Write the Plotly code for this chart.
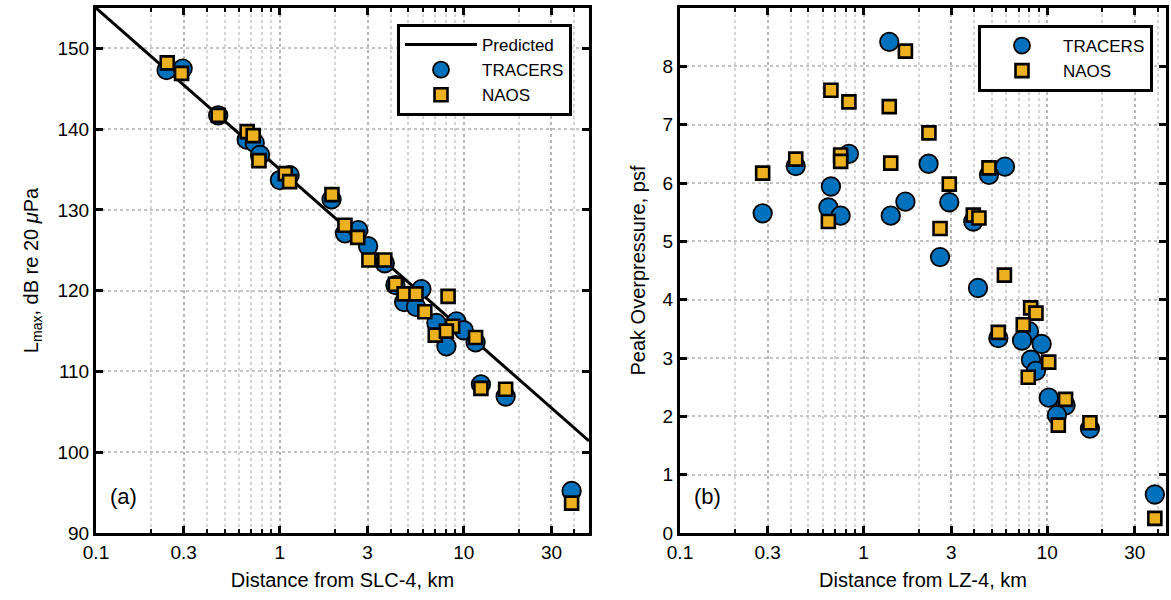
import numpy as np
import plotly.graph_objects as go

# ---------------- data ----------------
# Panel (a): Lmax vs distance from SLC-4
pred_x = [0.1, 48]
pred_y = [155.0, 101.4]

a_tr_x = [0.242, 0.296, 0.462, 0.66, 0.73, 0.78, 1.0, 1.13, 1.91, 2.26, 2.67, 3.02, 3.72,
          4.25, 4.74, 5.89, 5.5, 7.1, 9.12, 8.05, 10.0, 11.6, 12.4, 16.9, 38.6]
a_tr_y = [147.3, 147.5, 141.7, 138.7, 138.3, 136.8, 133.7, 134.3, 131.3, 127.1, 127.5, 125.5, 123.4,
          120.7, 118.6, 120.2, 118.0, 116.0, 116.2, 113.1, 115.1, 113.6, 108.4, 106.9, 95.2]
a_na_x = [0.244, 0.292, 0.462, 0.664, 0.716, 0.77, 1.07, 1.13, 1.92, 2.26, 2.65, 3.05, 3.72,
          4.25, 4.74, 5.5, 6.14, 7.0, 8.22, 8.7, 8.05, 11.6, 12.4, 16.9, 38.6]
a_na_y = [148.2, 146.9, 141.7, 139.7, 139.2, 136.1, 134.5, 133.5, 131.9, 128.1, 126.6, 123.8, 123.8,
          120.8, 119.6, 119.6, 117.4, 114.5, 119.3, 115.6, 115.0, 114.2, 107.9, 107.8, 93.7]

# Panel (b): peak overpressure vs distance from LZ-4
b_tr_x = [1.38, 0.832, 0.427, 2.26, 0.664, 0.282, 0.643, 0.75, 1.406, 1.69, 2.93, 2.61, 3.96,
          4.2, 5.89, 4.82, 5.42, 7.96, 7.3, 9.33, 8.16, 8.69, 10.2, 12.6, 11.3, 17.1, 38.6]
b_tr_y = [8.42, 6.50, 6.29, 6.33, 5.94, 5.48, 5.58, 5.44, 5.44, 5.68, 5.67, 4.73, 5.34,
          4.20, 6.28, 6.14, 3.34, 3.46, 3.30, 3.24, 2.97, 2.78, 2.32, 2.19, 2.02, 1.79, 0.66]
b_na_x = [1.69, 0.664, 0.832, 1.38, 2.27, 0.75, 0.75, 0.427, 0.282, 1.406, 2.93, 0.643, 2.61,
          3.96, 4.25, 4.82, 5.85, 8.13, 8.69, 7.41, 5.42, 10.2, 7.89, 12.6, 11.5, 17.1, 38.6]
b_na_y = [8.26, 7.59, 7.39, 7.31, 6.86, 6.48, 6.37, 6.41, 6.17, 6.34, 5.98, 5.34, 5.22,
          5.45, 5.40, 6.26, 4.42, 3.86, 3.77, 3.57, 3.44, 2.93, 2.67, 2.29, 1.85, 1.89, 0.25]

x_tickvals = [0.1, 0.3, 1, 3, 10, 30]
x_ticktext = ["0.1", "0.3", "1", "3", "10", "30"]
x_minor = [0.2, 0.4, 0.5, 0.6, 0.7, 0.8, 0.9, 2, 4, 5, 6, 7, 8, 9, 20, 40]

BLUE = "#0072BD"
GOLD = "#EDB120"
FONT = "Liberation Sans, Arial, sans-serif"

W, H = 1171, 600
ML, MR, MT, MB = 0, 0, 8, 67
PH = H - MT - MB

fig = go.Figure()

fig.add_trace(go.Scatter(x=pred_x, y=pred_y, mode="lines", name="Predicted",
                         line=dict(color="black", width=3), xaxis="x", yaxis="y",
                         legend="legend"))
fig.add_trace(go.Scatter(x=a_tr_x, y=a_tr_y, mode="markers", name="TRACERS",
                         marker=dict(symbol="circle", size=18.5, color=BLUE,
                                     line=dict(color="black", width=1.8)),
                         xaxis="x", yaxis="y", legend="legend"))
fig.add_trace(go.Scatter(x=a_na_x, y=a_na_y, mode="markers", name="NAOS",
                         marker=dict(symbol="square", size=13, color=GOLD,
                                     line=dict(color="black", width=2.6)),
                         xaxis="x", yaxis="y", legend="legend"))

fig.add_trace(go.Scatter(x=b_tr_x, y=b_tr_y, mode="markers", name="TRACERS",
                         marker=dict(symbol="circle", size=18.5, color=BLUE,
                                     line=dict(color="black", width=1.8)),
                         xaxis="x2", yaxis="y2", legend="legend2"))
fig.add_trace(go.Scatter(x=b_na_x, y=b_na_y, mode="markers", name="NAOS",
                         marker=dict(symbol="square", size=13, color=GOLD,
                                     line=dict(color="black", width=2.6)),
                         xaxis="x2", yaxis="y2", legend="legend2"))


def xaxis_cfg(domain, xmax, title):
    return dict(
        domain=domain, type="log", range=[-1, np.log10(xmax)],
        tickvals=x_tickvals, ticktext=x_ticktext,
        ticks="inside", ticklen=7, tickwidth=2.5, tickcolor="black",
        showline=True, linewidth=3, linecolor="black", mirror="ticks",
        showgrid=True, gridcolor="#b8b8b8", gridwidth=1.5, griddash="dot",
        zeroline=False,
        tickfont=dict(family=FONT, size=19, color="black"),
        title=dict(text=title, font=dict(family=FONT, size=20, color="black"), standoff=12),
        minor=dict(tickvals=x_minor, ticks="inside", ticklen=4, tickwidth=2,
                   tickcolor="black", showgrid=True, gridcolor="#d4d4d4",
                   gridwidth=1.5, griddash="dot"),
    )


def yaxis_cfg(rng, dtick, title, anchor, standoff):
    return dict(
        domain=[0, 1], range=rng, dtick=dtick, tick0=rng[0], anchor=anchor,
        ticks="inside", ticklen=7, tickwidth=2.5, tickcolor="black",
        showline=True, linewidth=3, linecolor="black", mirror="ticks",
        showgrid=True, gridcolor="#c4c4c4", gridwidth=1.5, griddash="dot",
        zeroline=False,
        tickfont=dict(family=FONT, size=19, color="black"),
        title=dict(text=title, font=dict(family=FONT, size=20, color="black"), standoff=standoff),
    )


legend_common = dict(
    bgcolor="white", bordercolor="black", borderwidth=3,
    font=dict(family=FONT, size=17, color="black"),
    xanchor="left", yanchor="top", itemwidth=72, tracegroupgap=0,
)

fig.update_layout(
    width=W, height=H,
    margin=dict(l=ML, r=MR, t=MT, b=MB, autoexpand=False),
    paper_bgcolor="white", plot_bgcolor="white",
    xaxis=xaxis_cfg([96 / W, 589 / W], 48, "Distance from SLC-4, km"),
    yaxis=yaxis_cfg([90, 155], 10, "L<sub>max</sub>, dB re 20 <i>μ</i>Pa", "x", 14),
    xaxis2=xaxis_cfg([680 / W, 1166 / W], 44.4, "Distance from LZ-4, km"),
    yaxis2=yaxis_cfg([0, 9], 1, "Peak Overpressure, psf", "x2", 12),
    legend=dict(x=397 / W, y=1 - (24 - MT) / PH, **legend_common),
    legend2=dict(x=978 / W, y=1 - (25 - MT) / PH, **legend_common),
    annotations=[
        dict(text="(a)", xref="x domain", yref="y domain", x=0.024, y=0.07,
             xanchor="left", yanchor="middle", showarrow=False,
             font=dict(family=FONT, size=22, color="black")),
        dict(text="(b)", xref="x2 domain", yref="y2 domain", x=0.024, y=0.07,
             xanchor="left", yanchor="middle", showarrow=False,
             font=dict(family=FONT, size=22, color="black")),
    ],
    showlegend=True,
)

fig.write_html("out.html")
